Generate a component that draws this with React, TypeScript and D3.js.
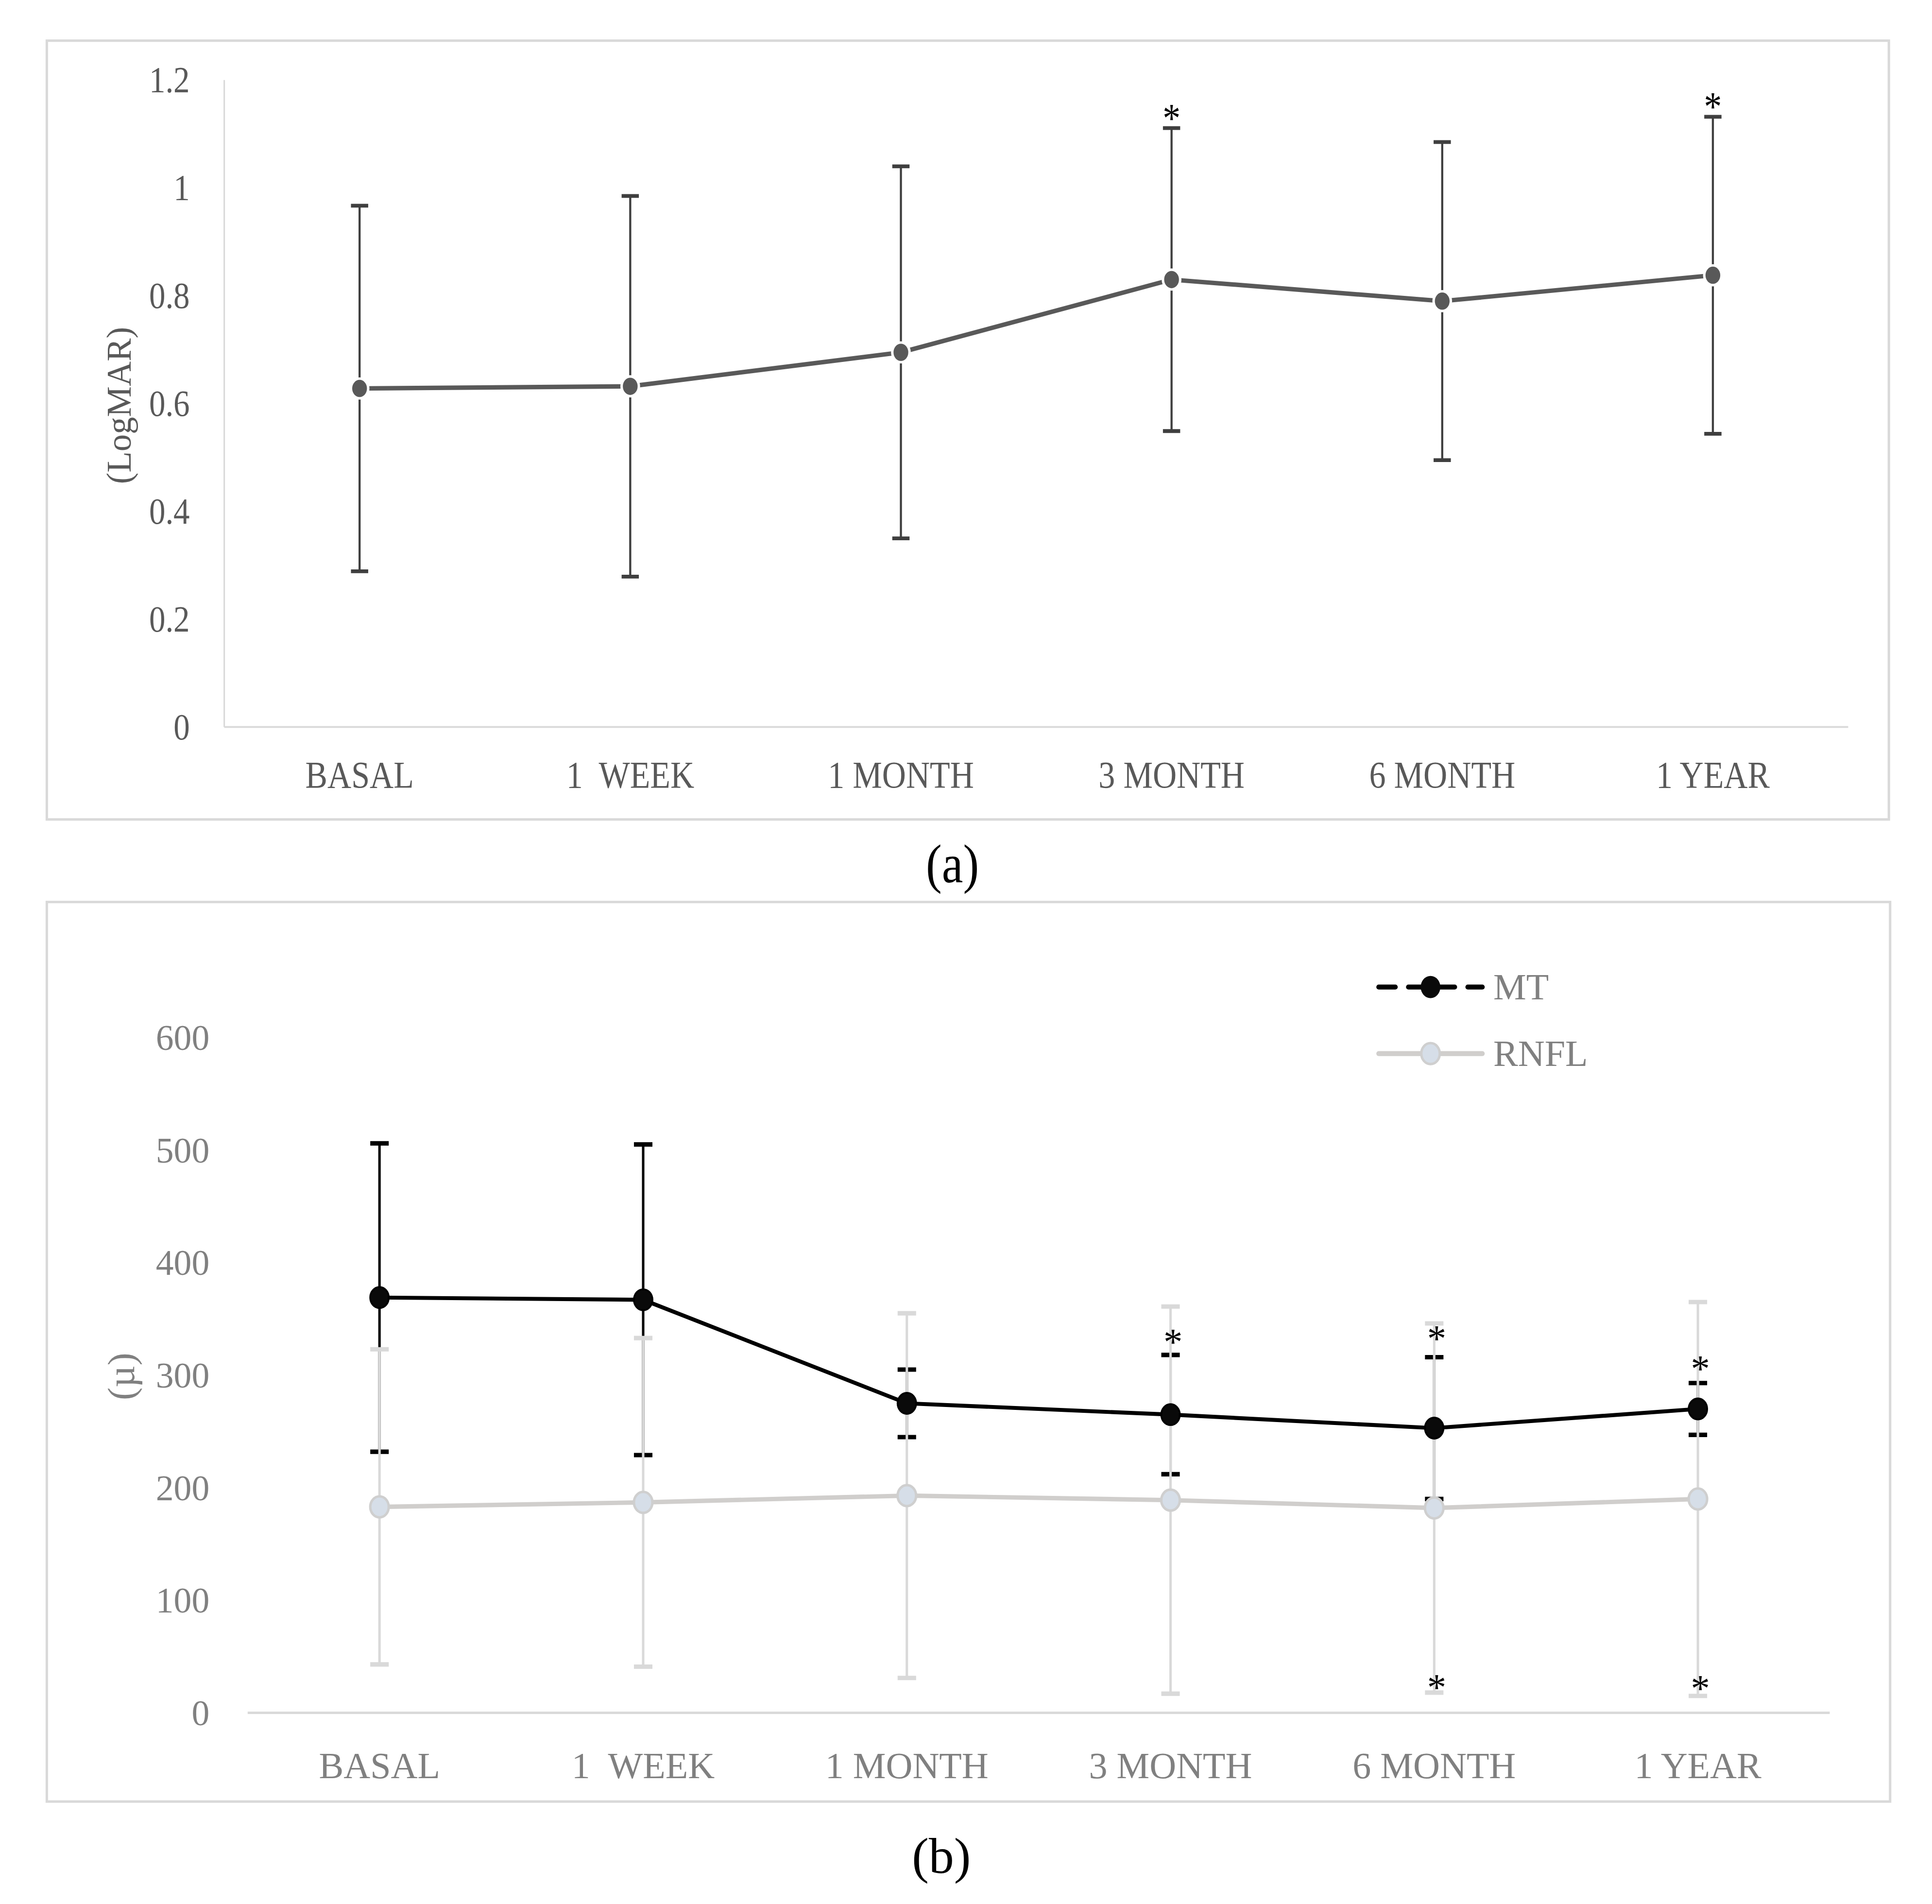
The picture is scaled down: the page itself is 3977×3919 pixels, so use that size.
import * as d3 from 'd3';

// ---- data ----
const categories = ['BASAL', '1  WEEK', '1 MONTH', '3 MONTH', '6 MONTH', '1 YEAR'];

// panel (a): visual acuity, LogMAR
const logmarMean = [0.628, 0.632, 0.695, 0.83, 0.79, 0.838];
const logmarSD = [0.339, 0.353, 0.345, 0.281, 0.295, 0.294];
const logmarTicks = [0, 0.2, 0.4, 0.6, 0.8, 1, 1.2];
const logmarTickLabels = ['0', '0.2', '0.4', '0.6', '0.8', '1', '1.2'];
const logmarStars = [
  { cat: '3 MONTH', value: 1.14 },
  { cat: '1 YEAR', value: 1.162 },
];

// panel (b): thickness, microns
const mtMean = [369, 367, 275, 265, 253, 270];
const mtSD = [137, 138, 30, 53, 63, 23];
const rnflMean = [183, 187, 193, 189, 182, 190];
const rnflSD = [140, 146, 162, 172, 164, 175];
const micronTicks = [0, 100, 200, 300, 400, 500, 600];
const micronStars = [
  { cat: '3 MONTH', value: 335 },
  { cat: '6 MONTH', value: 338 },
  { cat: '1 YEAR', value: 311 },
  { cat: '6 MONTH', value: 28 },
  { cat: '1 YEAR', value: 27 },
];
const legendLabels = ['MT', 'RNFL'];

// ---- layout (viewBox units) ----
const VW = 1568;
const VH = (VW * 3919) / 3977;
const SERIF = '"Liberation Serif", "DejaVu Serif", serif';
const GRID = '#d9d9d9';

const xA = d3.scaleBand<string>().domain(categories).range([182, 1500]);
const yA = d3.scaleLinear().domain([0, 1.2]).range([590, 65]);
const xB = d3.scaleBand<string>().domain(categories).range([201, 1485]);
const yB = d3.scaleLinear().domain([0, 600]).range([1390, 842]);

const cx = (scale: d3.ScaleBand<string>, c: string) => (scale(c) ?? 0) + scale.bandwidth() / 2;

// text squeezed horizontally, panel (a) came out condensed
const Squeezed = ({ x, y, size, fill, anchor, children }: any) => (
  <text
    transform={`translate(${x},${y}) scale(0.88,1)`}
    fontFamily={SERIF}
    fontSize={size}
    fill={fill}
    textAnchor={anchor}
    style={{ whiteSpace: 'pre' }}
  >
    {children}
  </text>
);

const ErrorBar = ({ x, y0, y1, cap, color, width }: any) => (
  <g stroke={color} strokeWidth={width}>
    <line x1={x} x2={x} y1={y0} y2={y1} />
    <line x1={x - cap / 2} x2={x + cap / 2} y1={y0} y2={y0} strokeWidth={width * 1.8} />
    <line x1={x - cap / 2} x2={x + cap / 2} y1={y1} y2={y1} strokeWidth={width * 1.8} />
  </g>
);

const PanelA = () => {
  const pts = categories.map((c, i) => [cx(xA, c), yA(logmarMean[i])] as [number, number]);
  const line = d3.line()(pts) ?? '';
  return (
    <g>
      <rect x={38} y={33} width={1495} height={632} fill="white" stroke={GRID} strokeWidth={2} />
      <line x1={182} x2={182} y1={yA(1.2)} y2={yA(0)} stroke={GRID} strokeWidth={1.2} />
      <line x1={182} x2={1500} y1={yA(0)} y2={yA(0)} stroke={GRID} strokeWidth={1.5} />
      {logmarTicks.map((t, i) => (
        <Squeezed key={t} x={154} y={yA(t) + 10} size={30} fill="#595959" anchor="end">
          {logmarTickLabels[i]}
        </Squeezed>
      ))}
      {categories.map((c) => (
        <Squeezed key={c} x={cx(xA, c)} y={639} size={30.5} fill="#595959" anchor="middle">
          {c}
        </Squeezed>
      ))}
      <text
        transform={`translate(106,329) rotate(-90)`}
        fontFamily={SERIF}
        fontSize={28}
        fill="#595959"
        textAnchor="middle"
      >
        (LogMAR)
      </text>
      {categories.map((c, i) => (
        <ErrorBar
          key={c}
          x={cx(xA, c)}
          y0={yA(logmarMean[i] + logmarSD[i])}
          y1={yA(logmarMean[i] - logmarSD[i])}
          cap={14}
          color="#3f3f3f"
          width={1.7}
        />
      ))}
      <path d={line} fill="none" stroke="#595959" strokeWidth={3.6} strokeLinejoin="round" />
      {pts.map(([x, y], i) => (
        <ellipse key={i} cx={x} cy={y} rx={7} ry={8} fill="#595959" stroke="white" strokeWidth={2} />
      ))}
      {logmarStars.map((s, i) => (
        <Squeezed key={i} x={cx(xA, s.cat)} y={yA(s.value) + 16} size={33} fill="#000" anchor="middle">
          *
        </Squeezed>
      ))}
      <Squeezed x={773} y={716} size={44} fill="#000" anchor="middle">
        (a)
      </Squeezed>
    </g>
  );
};

const PanelB = () => {
  const mtPts = categories.map((c, i) => [cx(xB, c), yB(mtMean[i])] as [number, number]);
  const rnflPts = categories.map((c, i) => [cx(xB, c), yB(rnflMean[i])] as [number, number]);
  const lineGen = d3.line();
  const legY = [801, 855];
  return (
    <g>
      <rect x={38} y={732} width={1496} height={730} fill="white" stroke={GRID} strokeWidth={2} />
      <line x1={201} x2={1485} y1={yB(0)} y2={yB(0)} stroke={GRID} strokeWidth={2} />
      {micronTicks.map((t) => (
        <text key={t} x={170} y={yB(t) + 10} fontFamily={SERIF} fontSize={29} fill="#808080" textAnchor="end">
          {t}
        </text>
      ))}
      {categories.map((c) => (
        <text
          key={c}
          x={cx(xB, c)}
          y={1443}
          fontFamily={SERIF}
          fontSize={30}
          fill="#808080"
          textAnchor="middle"
          style={{ whiteSpace: 'pre' }}
        >
          {c}
        </text>
      ))}
      <text
        transform={`translate(109,1117) rotate(-90)`}
        fontFamily={SERIF}
        fontSize={31}
        fill="#808080"
        textAnchor="middle"
      >
        (µ)
      </text>
      {categories.map((c, i) => (
        <ErrorBar
          key={c}
          x={cx(xB, c)}
          y0={yB(mtMean[i] + mtSD[i])}
          y1={yB(mtMean[i] - mtSD[i])}
          cap={15}
          color="#000"
          width={2}
        />
      ))}
      {categories.map((c, i) => (
        <ErrorBar
          key={c}
          x={cx(xB, c)}
          y0={yB(rnflMean[i] + rnflSD[i])}
          y1={yB(rnflMean[i] - rnflSD[i])}
          cap={15}
          color="#d9d9d9"
          width={2}
        />
      ))}
      <path d={lineGen(rnflPts) ?? ''} fill="none" stroke="#d0cecc" strokeWidth={3.6} strokeLinejoin="round" />
      <path d={lineGen(mtPts) ?? ''} fill="none" stroke="#000" strokeWidth={3.2} strokeLinejoin="round" />
      {rnflPts.map(([x, y], i) => (
        <ellipse key={i} cx={x} cy={y} rx={7.5} ry={8.5} fill="#d6dee8" stroke="#cfcfcf" strokeWidth={2} />
      ))}
      {mtPts.map(([x, y], i) => (
        <ellipse key={i} cx={x} cy={y} rx={7.5} ry={8.5} fill="#0a0a0a" stroke="#000" strokeWidth={1.5} />
      ))}
      {micronStars.map((s, i) => (
        <text
          key={i}
          x={cx(xB, s.cat) + 2}
          y={yB(s.value) + 15}
          fontFamily={SERIF}
          fontSize={31}
          fill="#000"
          textAnchor="middle"
        >
          *
        </text>
      ))}
      {/* legend */}
      <line x1={1119} x2={1203} y1={legY[0]} y2={legY[0]} stroke="#000" strokeWidth={4} strokeDasharray="13.4 10.7" strokeLinecap="round" />
      <ellipse cx={1161} cy={legY[0]} rx={8} ry={9} fill="#0a0a0a" />
      <line x1={1119} x2={1203} y1={legY[1]} y2={legY[1]} stroke="#d0cecc" strokeWidth={4} strokeLinecap="round" />
      <ellipse cx={1161} cy={legY[1]} rx={7.5} ry={8.5} fill="#d6dee8" stroke="#cfcfcf" strokeWidth={2} />
      {legendLabels.map((l, i) => (
        <text key={l} x={1212} y={legY[i] + 10} fontFamily={SERIF} fontSize={30} fill="#808080">
          {l}
        </text>
      ))}
      <text x={764} y={1520} fontFamily={SERIF} fontSize={41} fill="#000" textAnchor="middle">
        (b)
      </text>
    </g>
  );
};

export default function App() {
  return (
    <svg
      width={3977}
      height={3919}
      viewBox={`0 0 ${VW} ${VH}`}
      style={{ position: 'absolute', left: 0, top: 0, background: 'white' }}
    >
      <rect x={0} y={0} width={VW} height={VH} fill="white" />
      <PanelA />
      <PanelB />
    </svg>
  );
}
